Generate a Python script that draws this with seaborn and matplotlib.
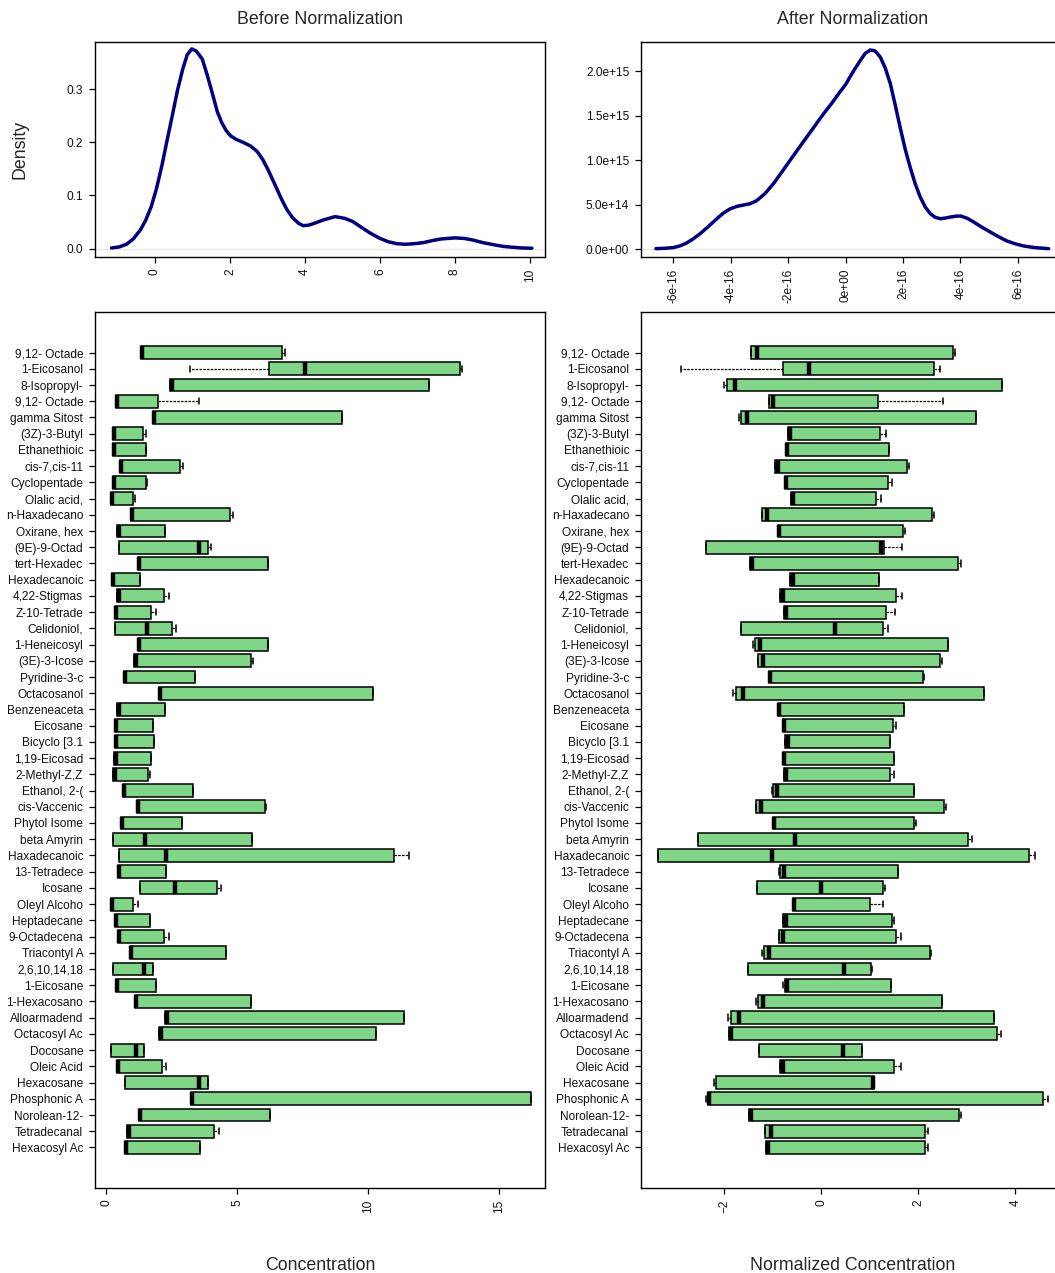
import numpy as np
import pandas as pd
import seaborn as sns
import matplotlib.pyplot as plt
from matplotlib.ticker import FuncFormatter

# compound labels (top to bottom)
compounds = ["9,12- Octade", "1-Eicosanol", "8-Isopropyl-", "9,12- Octade", "gamma Sitost",
             "(3Z)-3-Butyl", "Ethanethioic", "cis-7,cis-11", "Cyclopentade", "Olalic acid,",
             "n-Haxadecano", "Oxirane, hex", "(9E)-9-Octad", "tert-Hexadec", "Hexadecanoic",
             "4,22-Stigmas", "Z-10-Tetrade", "Celidoniol,", "1-Heneicosyl", "(3E)-3-Icose",
             "Pyridine-3-c", "Octacosanol", "Benzeneaceta", "Eicosane", "Bicyclo [3.1",
             "1,19-Eicosad", "2-Methyl-Z,Z", "Ethanol, 2-(", "cis-Vaccenic", "Phytol Isome",
             "beta Amyrin", "Haxadecanoic", "13-Tetradece", "Icosane", "Oleyl Alcoho",
             "Heptadecane", "9-Octadecena", "Triacontyl A", "2,6,10,14,18", "1-Eicosane",
             "1-Hexacosano", "Alloarmadend", "Octacosyl Ac", "Docosane", "Oleic Acid",
             "Hexacosane", "Phosphonic A", "Norolean-12-", "Tetradecanal", "Hexacosyl Ac"]

# concentration per compound: min, lower hinge, median, upper hinge, max
raw_stats = [
    [1.31, 1.31, 1.37, 6.72, 6.83], [3.18, 6.21, 7.59, 13.51, 13.59], [2.45, 2.45, 2.50, 12.34, 12.34],
    [0.37, 0.37, 0.42, 1.99, 3.54], [1.77, 1.77, 1.83, 9.02, 9.02], [0.26, 0.26, 0.30, 1.42, 1.53],
    [0.26, 0.26, 0.31, 1.50, 1.50], [0.53, 0.53, 0.58, 2.81, 2.92], [0.26, 0.26, 0.31, 1.53, 1.56],
    [0.18, 0.18, 0.22, 1.01, 1.10], [0.93, 0.93, 0.97, 4.71, 4.86], [0.42, 0.42, 0.47, 2.23, 2.23],
    [0.50, 0.50, 3.54, 3.88, 3.99], [1.20, 1.20, 1.26, 6.18, 6.18], [0.23, 0.23, 0.27, 1.28, 1.28],
    [0.42, 0.42, 0.47, 2.22, 2.38], [0.32, 0.32, 0.37, 1.72, 1.89], [0.32, 0.32, 1.56, 2.53, 2.66],
    [1.22, 1.22, 1.26, 6.18, 6.18], [1.07, 1.07, 1.12, 5.53, 5.61], [0.66, 0.66, 0.70, 3.38, 3.38],
    [2.00, 2.00, 2.06, 10.19, 10.19], [0.42, 0.42, 0.47, 2.26, 2.26], [0.34, 0.34, 0.38, 1.77, 1.77],
    [0.34, 0.34, 0.39, 1.83, 1.83], [0.31, 0.31, 0.37, 1.72, 1.72], [0.27, 0.27, 0.32, 1.58, 1.66],
    [0.64, 0.64, 0.69, 3.31, 3.31], [1.16, 1.16, 1.22, 6.05, 6.09], [0.55, 0.55, 0.61, 2.91, 2.91],
    [0.27, 0.27, 1.47, 5.56, 5.56], [0.47, 0.47, 2.29, 11.01, 11.55], [0.43, 0.43, 0.49, 2.29, 2.29],
    [1.27, 1.27, 2.61, 4.22, 4.37], [0.18, 0.18, 0.23, 1.04, 1.20], [0.32, 0.32, 0.37, 1.69, 1.69],
    [0.43, 0.43, 0.47, 2.22, 2.39], [0.91, 0.91, 0.95, 4.56, 4.59], [0.27, 0.27, 1.46, 1.80, 1.80],
    [0.37, 0.37, 0.41, 1.89, 1.89], [1.08, 1.08, 1.12, 5.53, 5.53], [2.26, 2.26, 2.31, 11.36, 11.36],
    [2.03, 2.03, 2.08, 10.29, 10.29], [0.20, 0.20, 1.15, 1.45, 1.45], [0.41, 0.41, 0.45, 2.14, 2.29],
    [0.73, 0.73, 3.56, 3.88, 3.88], [3.22, 3.22, 3.27, 16.23, 16.23], [1.24, 1.24, 1.28, 6.25, 6.25],
    [0.80, 0.80, 0.85, 4.11, 4.29], [0.72, 0.72, 0.76, 3.58, 3.58],
]

# normalized concentration per compound: min, lower hinge, median, upper hinge, max
norm_stats = [
    [-1.45, -1.45, -1.32, 2.72, 2.75], [-2.88, -0.78, -0.25, 2.33, 2.45], [-2.00, -1.94, -1.77, 3.72, 3.72],
    [-1.07, -1.07, -1.00, 1.17, 2.50], [-1.70, -1.66, -1.52, 3.18, 3.18], [-0.69, -0.69, -0.65, 1.21, 1.34],
    [-0.73, -0.73, -0.71, 1.39, 1.40], [-0.95, -0.95, -0.89, 1.76, 1.80], [-0.75, -0.75, -0.72, 1.37, 1.46],
    [-0.62, -0.62, -0.59, 1.13, 1.24], [-1.22, -1.22, -1.11, 2.29, 2.33], [-0.89, -0.89, -0.86, 1.68, 1.72],
    [-2.37, -2.37, 1.23, 1.30, 1.67], [-1.46, -1.46, -1.43, 2.81, 2.88], [-0.64, -0.64, -0.59, 1.19, 1.19],
    [-0.85, -0.85, -0.78, 1.54, 1.66], [-0.76, -0.76, -0.72, 1.34, 1.51], [-1.66, -1.66, 0.29, 1.28, 1.37],
    [-1.41, -1.37, -1.26, 2.62, 2.62], [-1.31, -1.31, -1.19, 2.45, 2.48], [-1.08, -1.08, -1.05, 2.09, 2.11],
    [-1.81, -1.76, -1.61, 3.36, 3.36], [-0.89, -0.89, -0.86, 1.71, 1.71], [-0.79, -0.79, -0.76, 1.47, 1.54],
    [-0.75, -0.75, -0.69, 1.42, 1.42], [-0.79, -0.79, -0.76, 1.49, 1.49], [-0.76, -0.76, -0.73, 1.41, 1.49],
    [-1.02, -1.00, -0.91, 1.91, 1.91], [-1.35, -1.35, -1.23, 2.52, 2.57], [-1.00, -1.00, -0.97, 1.91, 1.96],
    [-2.53, -2.53, -0.53, 3.03, 3.10], [-3.37, -3.37, -1.02, 4.27, 4.41], [-0.86, -0.84, -0.77, 1.58, 1.58],
    [-1.32, -1.32, -0.01, 1.28, 1.32], [-0.59, -0.59, -0.55, 1.01, 1.28], [-0.78, -0.78, -0.73, 1.46, 1.49],
    [-0.86, -0.86, -0.78, 1.54, 1.65], [-1.21, -1.17, -1.08, 2.24, 2.26], [-1.51, -1.51, 0.47, 1.02, 1.05],
    [-0.78, -0.75, -0.70, 1.44, 1.44], [-1.34, -1.30, -1.19, 2.48, 2.48], [-1.91, -1.86, -1.70, 3.56, 3.56],
    [-1.89, -1.89, -1.85, 3.62, 3.71], [-1.28, -1.28, 0.45, 0.84, 0.84], [-0.84, -0.84, -0.78, 1.50, 1.64],
    [-2.20, -2.17, 1.06, 1.08, 1.08], [-2.37, -2.34, -2.31, 4.56, 4.66], [-1.48, -1.48, -1.44, 2.83, 2.88],
    [-1.15, -1.15, -1.04, 2.13, 2.19], [-1.13, -1.13, -1.09, 2.13, 2.19],
]

# density curves
dens_before_x = [-1.16, -0.95, -0.76, -0.58, -0.39, -0.25, -0.10, 0.04, 0.18, 0.32, 0.46, 0.60,
                 0.74, 0.86, 0.98, 1.10, 1.26, 1.40, 1.55, 1.66, 1.78, 1.90, 2.02, 2.18, 2.35,
                 2.55, 2.72, 2.87, 3.01, 3.20, 3.38, 3.52, 3.67, 3.82, 3.95, 4.10, 4.23, 4.50,
                 4.80, 5.05, 5.27, 5.50, 5.74, 5.97, 6.21, 6.45, 6.68, 6.90, 7.15, 7.40, 7.63,
                 8.00, 8.25, 8.47, 8.75, 9.04, 9.28, 9.51, 9.78, 10.05]
dens_before_y = [0.001, 0.003, 0.008, 0.018, 0.035, 0.053, 0.079, 0.113, 0.155, 0.203, 0.250,
                 0.298, 0.338, 0.365, 0.376, 0.372, 0.357, 0.325, 0.287, 0.258, 0.237, 0.222,
                 0.212, 0.205, 0.200, 0.193, 0.183, 0.168, 0.149, 0.120, 0.092, 0.073, 0.058,
                 0.048, 0.043, 0.044, 0.047, 0.054, 0.060, 0.057, 0.051, 0.040, 0.029, 0.020,
                 0.013, 0.009, 0.008, 0.009, 0.011, 0.015, 0.018, 0.020, 0.019, 0.016, 0.011,
                 0.007, 0.004, 0.0025, 0.001, 0.0005]
dens_after_x = [-6.60, -6.30, -5.99, -5.76, -5.53, -5.30, -5.06, -4.77, -4.48, -4.25, -4.02,
                -3.78, -3.55, -3.32, -3.09, -2.80, -2.51, -2.22, -1.93, -1.64, -1.35, -1.06,
                -0.77, -0.48, -0.19, 0.00, 0.16, 0.33, 0.51, 0.68, 0.86, 1.03, 1.21, 1.38,
                1.56, 1.73, 1.90, 2.08, 2.25, 2.42, 2.60, 2.78, 2.95, 3.12, 3.30, 3.47, 3.65,
                3.85, 4.02, 4.24, 4.46, 4.75, 5.04, 5.33, 5.62, 5.91, 6.20, 6.60, 7.07]  # x 1e-16
dens_after_y = [0.004, 0.008, 0.016, 0.035, 0.068, 0.115, 0.173, 0.255, 0.341, 0.405, 0.452,
                0.480, 0.495, 0.510, 0.545, 0.625, 0.735, 0.865, 0.998, 1.13, 1.26, 1.39,
                1.52, 1.64, 1.77, 1.85, 1.94, 2.03, 2.12, 2.20, 2.24, 2.23, 2.16, 2.04, 1.86,
                1.62, 1.37, 1.12, 0.92, 0.74, 0.585, 0.47, 0.398, 0.357, 0.341, 0.348, 0.36,
                0.37, 0.371, 0.345, 0.304, 0.245, 0.191, 0.138, 0.090, 0.058, 0.034, 0.015,
                0.004]  # x 1e15

sns.set_theme(style="ticks")
plt.rcParams['font.family'] = ['Liberation Sans', 'DejaVu Sans']
plt.rcParams['axes.linewidth'] = 1.0

BOX_GREEN = "#7fd687"
LINE_BLUE = "#000080"
W, H = 1055, 1273
fig = plt.figure(figsize=(W / 100, H / 100), dpi=100)


def px_axes(x0, y0, x1, y1):
    return fig.add_axes([x0 / W, 1 - y1 / H, (x1 - x0) / W, (y1 - y0) / H])


ax_tl = px_axes(95, 42, 545, 257)
ax_tr = px_axes(641, 42, 1065, 257)
ax_bl = px_axes(95, 312, 545, 1188)
ax_br = px_axes(641, 312, 1065, 1188)

# density plots
dens1 = pd.DataFrame({"x": dens_before_x, "y": dens_before_y})
dens2 = pd.DataFrame({"x": np.array(dens_after_x) * 1e-16, "y": np.array(dens_after_y) * 1e15})
for ax, d in [(ax_tl, dens1), (ax_tr, dens2)]:
    ax.axhline(0, color="#e6e6e6", lw=0.8, zorder=0)
    sns.lineplot(data=d, x="x", y="y", ax=ax, color=LINE_BLUE, lw=2.5, sort=False)
    ax.lines[-1].set_solid_joinstyle("round")

ax_tl.set_xlim(-1.6, 10.4)
ax_tl.set_ylim(-0.016, 0.389)
ax_tl.set_xticks([0, 2, 4, 6, 8, 10])
ax_tl.set_yticks([0.0, 0.1, 0.2, 0.3])
ax_tl.yaxis.set_major_formatter(FuncFormatter(lambda v, p: f"{v:.1f}"))

ax_tr.set_xlim(-7.12e-16, 7.64e-16)
ax_tr.set_ylim(-0.09e15, 2.33e15)
ax_tr.set_xticks(np.array([-6, -4, -2, 0, 2, 4, 6]) * 1e-16)
ax_tr.set_yticks(np.array([0, 0.5, 1.0, 1.5, 2.0]) * 1e15)
ax_tr.xaxis.set_major_formatter(FuncFormatter(
    lambda v, p: "0e+00" if abs(v) < 1e-20 else f"{round(v * 1e16):d}e-16"))
ax_tr.yaxis.set_major_formatter(FuncFormatter(lambda v, p: f"{v:.1e}"))


def box_panel(ax, stats):
    rows = []
    for i, vals in enumerate(stats):
        for v in vals:
            rows.append({"row": i, "value": v})
    df = pd.DataFrame(rows)
    sns.boxplot(data=df, x="value", y="row", orient="y", ax=ax, whis=(0, 100),
                width=0.8, color=BOX_GREEN, saturation=1, linecolor="black", linewidth=1.1,
                fliersize=0,
                medianprops=dict(color="black", linewidth=3.2, solid_capstyle="butt"),
                whiskerprops=dict(color="black", linewidth=0.9, linestyle=(0, (2, 1))),
                capprops=dict(color="black", linewidth=1.1))
    ax.set_ylim(len(stats) - 1 + 2.5, -2.5)
    ax.set_yticks(range(len(stats)))
    ax.set_yticklabels(compounds)


box_panel(ax_bl, raw_stats)
ax_bl.set_xlim(-0.43, 16.76)
ax_bl.set_xticks([0, 5, 10, 15])

box_panel(ax_br, norm_stats)
ax_br.set_xlim(-3.71, 5.02)
ax_br.set_xticks([-2, 0, 2, 4])

for ax in [ax_tl, ax_tr, ax_bl, ax_br]:
    ax.set_xlabel("")
    ax.set_ylabel("")
    for s in ax.spines.values():
        s.set_visible(True)
        s.set_color("black")
        s.set_linewidth(1.0)
    ax.tick_params(axis="both", length=4.5, width=0.9, color="black", labelsize=8.6,
                   labelcolor="#111111", pad=4)
    ax.tick_params(axis="x", labelrotation=90)
    ax.grid(False)

ax_tr.spines["right"].set_visible(False)
ax_br.spines["right"].set_visible(False)

fig.text(320 / W, 1 - 20 / H, "Before Normalization", ha="center", va="center", fontsize=12.8)
fig.text(853 / W, 1 - 20 / H, "After Normalization", ha="center", va="center", fontsize=12.8)
fig.text(20 / W, 1 - 149 / H, "Density", ha="center", va="center", rotation=90, fontsize=12.8)
fig.text(320 / W, 1 - 1265 / H, "Concentration", ha="center", va="center", fontsize=12.8)
fig.text(853 / W, 1 - 1265 / H, "Normalized Concentration", ha="center", va="center", fontsize=12.8)

fig.savefig("out.png", dpi=100)
